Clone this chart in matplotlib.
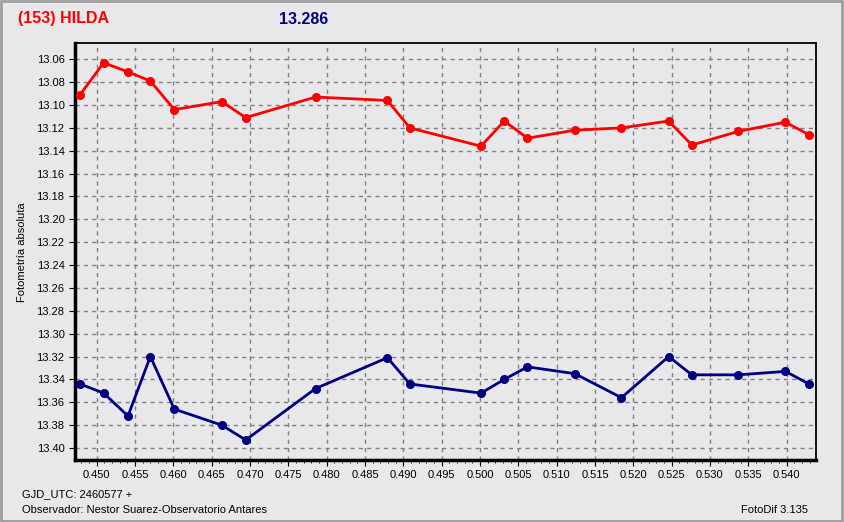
import numpy as np
import matplotlib
matplotlib.use("Agg")
import matplotlib.pyplot as plt
from matplotlib.ticker import MultipleLocator, FormatStrFormatter

plt.rcParams['font.family'] = ['Liberation Sans', 'DejaVu Sans']

# time (fraction of day after GJD 2460577)
t = [0.44783, 0.45091, 0.45408, 0.45700, 0.46013, 0.46632, 0.46944, 0.47855,
     0.48793, 0.49086, 0.50013, 0.50317, 0.50620, 0.51238, 0.51846, 0.52462,
     0.52764, 0.53372, 0.53986, 0.54292]
# asteroid magnitudes (red)
mag_ast = [13.091, 13.063, 13.071, 13.079, 13.104, 13.097, 13.111, 13.093,
           13.096, 13.120, 13.136, 13.114, 13.129, 13.122, 13.120, 13.114,
           13.135, 13.123, 13.115, 13.126]
# comparison magnitudes (blue)
mag_cmp = [13.344, 13.352, 13.372, 13.320, 13.366, 13.380, 13.393, 13.348,
           13.321, 13.344, 13.352, 13.340, 13.329, 13.335, 13.356, 13.320,
           13.336, 13.336, 13.333, 13.344]

bg = '#E8E8EA'
fig = plt.figure(figsize=(8.44, 5.22), dpi=100, facecolor=bg)
ax = fig.add_axes([75/844, 1-460/522, (815.7-75)/844, (460-43.3)/522])
ax.set_facecolor(bg)

ax.plot(t, mag_ast, color='#FF0000', lw=2, marker='o', ms=5.5, zorder=3)
ax.plot(t, mag_cmp, color='#000080', lw=2, marker='o', ms=5.5, zorder=3)

ax.set_xlim(0.44717, 0.5438)
ax.set_ylim(13.4105, 13.046)
ax.xaxis.set_major_locator(MultipleLocator(0.005))
ax.xaxis.set_minor_locator(MultipleLocator(0.001))
ax.yaxis.set_major_locator(MultipleLocator(0.02))
ax.xaxis.set_major_formatter(FormatStrFormatter('%.3f'))
ax.yaxis.set_major_formatter(FormatStrFormatter('%.2f'))
ax.grid(True, which='major', color='#808080', ls=(0, (3, 3)), lw=1)
ax.tick_params(axis='both', which='major', labelsize=8, length=4, direction='out', color='black')
ax.tick_params(axis='x', which='minor', length=2.5, direction='out')
ax.spines['left'].set_linewidth(2.5)
ax.spines['bottom'].set_linewidth(2.5)
ax.spines['top'].set_linewidth(1.3)
ax.spines['right'].set_linewidth(1.3)

fig.text(22/844, 1-252/522, 'Fotometría absoluta', rotation=90, fontsize=8,
         ha='center', va='center')
fig.text(18/844, 1-19/522, '(153) HILDA', color='#FF0000', fontsize=11.5,
         fontweight='bold', ha='left', va='center')
fig.text(279/844, 1-19/522, '13.286', color='#000080', fontsize=11.5,
         fontweight='bold', ha='left', va='center')
fig.text(22/844, 1-494/522, 'GJD_UTC: 2460577 +', fontsize=8, ha='left', va='center')
fig.text(22/844, 1-510/522, 'Observador: Nestor Suarez-Observatorio Antares',
         fontsize=8, ha='left', va='center')
fig.text(808/844, 1-510/522, 'FotoDif 3.135', fontsize=8, ha='right', va='center')

# window border
fig.patches.append(plt.Rectangle((0.001, 0.001), 0.997, 0.997, transform=fig.transFigure,
                                 fill=False, edgecolor='#A0A0A0', lw=2))

fig.savefig('out.png', dpi=100, facecolor=bg)
